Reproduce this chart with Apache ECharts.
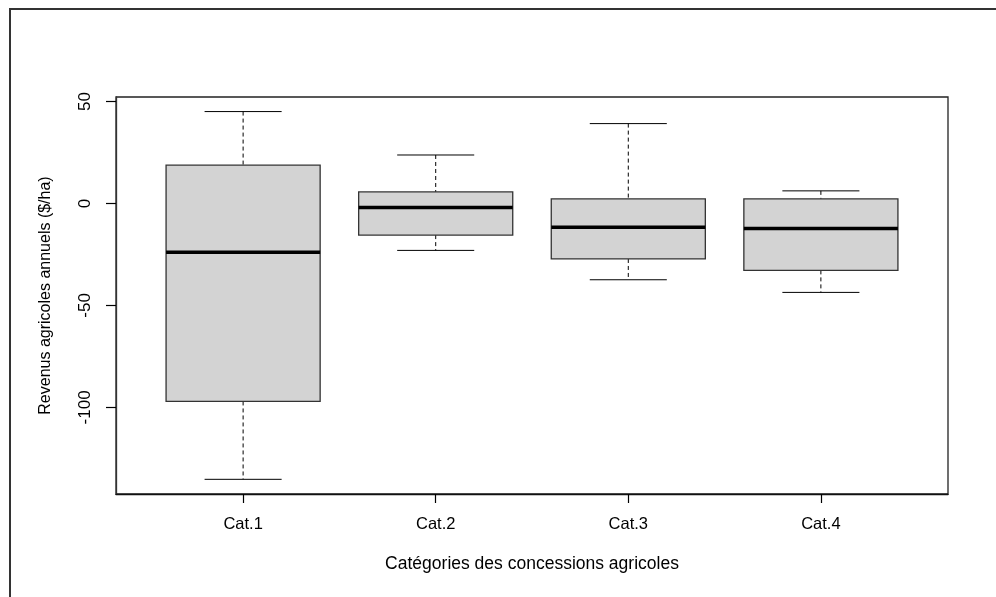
<!DOCTYPE html>
<html>
<head>
<meta charset="utf-8">
<script src="https://cdn.jsdelivr.net/npm/echarts@6/dist/echarts.min.js"></script>
<style>
  html, body { margin: 0; padding: 0; background: #fff; }
  #chart { width: 996px; height: 597px; }
</style>
</head>
<body>
<div id="chart"></div>
<script>
// Categories of agricultural concessions
var categories = ['Cat.1', 'Cat.2', 'Cat.3', 'Cat.4'];
// Five-number summaries per category: lower whisker, Q1, median, Q3, upper whisker
var whiskerLow  = [-135.3, -23.0, -37.4, -43.6];
var quartile1   = [-97.1, -15.5, -27.2, -32.8];
var medians     = [-23.9, -2.0, -11.6, -12.3];
var quartile3   = [18.8, 5.7, 2.3, 2.3];
var whiskerHigh = [45.1, 23.8, 39.2, 6.2];
// Tick values on both axes
var yTicks = [-100, -50, 0, 50];
var xTicks = [1, 2, 3, 4];

var FONT = '"Liberation Sans", Arial, sans-serif';

var boxData = categories.map(function (c, i) {
  return [i + 1, whiskerLow[i], quartile1[i], medians[i], quartile3[i], whiskerHigh[i]];
});

// Draws one box: dashed whiskers, caps, filled box and thick median bar
function renderBox(params, api) {
  var x = api.value(0);
  var half = 0.4, capHalf = 0.2;
  var pLow = api.coord([x, api.value(1)]);
  var pQ1 = api.coord([x, api.value(2)]);
  var pMed = api.coord([x, api.value(3)]);
  var pQ3 = api.coord([x, api.value(4)]);
  var pHigh = api.coord([x, api.value(5)]);
  var left = api.coord([x - half, 0])[0];
  var right = api.coord([x + half, 0])[0];
  var capL = api.coord([x - capHalf, 0])[0];
  var capR = api.coord([x + capHalf, 0])[0];
  var dashed = { stroke: '#000', lineWidth: 1, lineDash: [4, 3] };
  var solid = { stroke: '#000', lineWidth: 1 };
  return {
    type: 'group',
    children: [
      { type: 'line', shape: { x1: pHigh[0], y1: pHigh[1], x2: pQ3[0], y2: pQ3[1] }, style: dashed },
      { type: 'line', shape: { x1: pQ1[0], y1: pQ1[1], x2: pLow[0], y2: pLow[1] }, style: dashed },
      { type: 'line', shape: { x1: capL, y1: pHigh[1], x2: capR, y2: pHigh[1] }, style: solid },
      { type: 'line', shape: { x1: capL, y1: pLow[1], x2: capR, y2: pLow[1] }, style: solid },
      { type: 'rect', shape: { x: left, y: pQ3[1], width: right - left, height: pQ1[1] - pQ3[1] },
        style: { fill: '#d3d3d3', stroke: '#333', lineWidth: 1.3 } },
      { type: 'line', shape: { x1: left, y1: pMed[1], x2: right, y2: pMed[1] },
        style: { stroke: '#000', lineWidth: 3.5 } }
    ]
  };
}

var chart = echarts.init(document.getElementById('chart'), null, { renderer: 'canvas' });
chart.setOption({
  animation: false,
  backgroundColor: '#fff',
  graphic: [{
    type: 'polyline',
    shape: { points: [[10, 597], [10, 9], [996, 9]] },
    style: { stroke: '#333', lineWidth: 2, fill: null }
  }],
  grid: {
    left: 116, right: 48, top: 97, bottom: 103,
    show: true, borderColor: '#222', borderWidth: 1.3, backgroundColor: 'transparent'
  },
  xAxis: {
    type: 'value',
    min: 0.34, max: 4.66,
    splitLine: { show: false },
    axisLine: { show: true, onZero: false, lineStyle: { color: '#111', width: 1.3 } },
    axisTick: { show: true, inside: false, length: 9, customValues: xTicks, lineStyle: { color: '#000', width: 1.2 } },
    axisLabel: {
      customValues: xTicks,
      formatter: function (v) { return categories[Math.round(v) - 1] || ''; },
      color: '#000', fontFamily: FONT, fontSize: 16.5, margin: 22
    },
    name: 'Catégories des concessions agricoles',
    nameLocation: 'middle', nameGap: 61,
    nameTextStyle: { color: '#000', fontFamily: FONT, fontSize: 17.5 }
  },
  yAxis: {
    type: 'value',
    min: -142.5, max: 52.25,
    splitLine: { show: false },
    axisLine: { show: true, onZero: false, lineStyle: { color: '#333', width: 1.3 } },
    axisTick: { show: true, inside: false, length: 10, customValues: yTicks, lineStyle: { color: '#000', width: 1.2 } },
    axisLabel: {
      customValues: yTicks,
      rotate: 90,
      color: '#000', fontFamily: FONT, fontSize: 17, margin: 22
    },
    name: 'Revenus agricoles annuels ($/ha)',
    nameLocation: 'middle', nameGap: 62, nameRotate: 90,
    nameTextStyle: { color: '#000', fontFamily: FONT, fontSize: 16 }
  },
  series: [{
    type: 'custom',
    renderItem: renderBox,
    encode: { x: 0, y: [1, 2, 3, 4, 5] },
    data: boxData,
    clip: false
  }]
});
</script>
</body>
</html>
